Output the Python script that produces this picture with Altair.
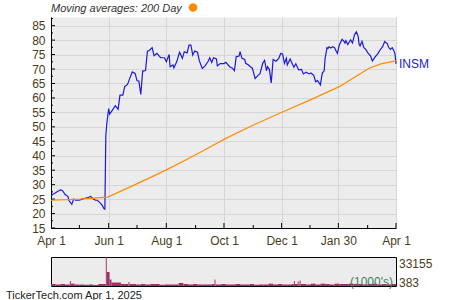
import altair as alt
import pandas as pd

FONT = "Liberation Sans"
LABEL_COLOR = "#4a3c20"

# ---- price (INSM) ----
price_dates = [
    "2024-04-01", "2024-04-03", "2024-04-05", "2024-04-08", "2024-04-11", "2024-04-13", "2024-04-16",
    "2024-04-19", "2024-04-20", "2024-04-23", "2024-04-25", "2024-04-27", "2024-05-01", "2024-05-04",
    "2024-05-06", "2024-05-09", "2024-05-13", "2024-05-15", "2024-05-18", "2024-05-20", "2024-05-23",
    "2024-05-25", "2024-05-27", "2024-05-28", "2024-05-29", "2024-05-30", "2024-06-01", "2024-06-02",
    "2024-06-05", "2024-06-08", "2024-06-11", "2024-06-13", "2024-06-16", "2024-06-18", "2024-06-21",
    "2024-06-23", "2024-06-26", "2024-06-29", "2024-07-01", "2024-07-03", "2024-07-05", "2024-07-07",
    "2024-07-10", "2024-07-12", "2024-07-14", "2024-07-17", "2024-07-19", "2024-07-22", "2024-07-26",
    "2024-07-30", "2024-08-01", "2024-08-04", "2024-08-05", "2024-08-08", "2024-08-09", "2024-08-12",
    "2024-08-15", "2024-08-18", "2024-08-20", "2024-08-23", "2024-08-25", "2024-08-27", "2024-08-29",
    "2024-08-31", "2024-09-03", "2024-09-05", "2024-09-08", "2024-09-11", "2024-09-14", "2024-09-16",
    "2024-09-18", "2024-09-20", "2024-09-23", "2024-09-24", "2024-09-27", "2024-10-01", "2024-10-03",
    "2024-10-07", "2024-10-10", "2024-10-12", "2024-10-14", "2024-10-17", "2024-10-18", "2024-10-20",
    "2024-10-23", "2024-10-24", "2024-10-27", "2024-10-29", "2024-10-31", "2024-11-03", "2024-11-06",
    "2024-11-08", "2024-11-11", "2024-11-13", "2024-11-15", "2024-11-16", "2024-11-18", "2024-11-20",
    "2024-11-22", "2024-11-25", "2024-11-28", "2024-11-30", "2024-12-02", "2024-12-04", "2024-12-06",
    "2024-12-07", "2024-12-10", "2024-12-12", "2024-12-14", "2024-12-16", "2024-12-19", "2024-12-22",
    "2024-12-24", "2024-12-27", "2024-12-30", "2025-01-01", "2025-01-04", "2025-01-06", "2025-01-08",
    "2025-01-11", "2025-01-13", "2025-01-15", "2025-01-16", "2025-01-18", "2025-01-19", "2025-01-20",
    "2025-01-22", "2025-01-24", "2025-01-26", "2025-01-28", "2025-01-29", "2025-01-31", "2025-02-03",
    "2025-02-05", "2025-02-06", "2025-02-07", "2025-02-09", "2025-02-11", "2025-02-12", "2025-02-14",
    "2025-02-16", "2025-02-18", "2025-02-20", "2025-02-21", "2025-02-22", "2025-02-24", "2025-02-26",
    "2025-02-28", "2025-03-02", "2025-03-05", "2025-03-07", "2025-03-10", "2025-03-13", "2025-03-15",
    "2025-03-18", "2025-03-20", "2025-03-23", "2025-03-24", "2025-03-26", "2025-03-28", "2025-03-30",
    "2025-03-31", "2025-04-01",
]
price_values = [
    25.9, 26.7, 27.0, 27.6, 28.2, 28.0, 26.6,
    25.9, 24.5, 23.2, 25.0, 24.6, 24.6, 25.0,
    25.2, 25.4, 25.9, 25.2, 24.6, 24.6, 23.7,
    22.9, 21.7, 21.5, 47.0, 51.0, 56.3, 54.4,
    55.8, 57.3, 56.1, 61.0, 61.0, 63.9, 64.7,
    66.5, 69.0, 68.5, 66.0, 65.8, 61.2, 69.3,
    69.5, 76.2, 76.4, 77.4, 74.6, 75.4, 73.9,
    73.9, 72.5, 75.0, 70.8, 71.4, 70.4, 72.5,
    75.8, 73.7, 76.0, 75.6, 78.3, 78.3, 74.8,
    76.2, 75.8, 72.8, 70.2, 71.1, 72.5, 73.9,
    72.3, 73.9, 73.5, 71.1, 71.9, 71.9, 72.3,
    70.8, 70.3, 69.4, 74.3, 74.5, 76.0, 73.7,
    73.3, 72.0, 71.4, 70.8, 70.3, 66.7, 67.8,
    68.3, 72.0, 73.0, 69.4, 70.8, 69.9, 65.2,
    73.3, 72.7, 73.7, 75.4, 75.2, 72.0, 73.7,
    71.4, 73.5, 72.0, 70.6, 71.8, 69.7, 69.9,
    68.3, 68.9, 68.3, 68.6, 67.8, 65.6, 66.0,
    64.5, 68.6, 69.4, 73.7, 77.4, 77.1, 77.7,
    77.3, 77.7, 77.4, 76.0, 75.4, 78.3, 80.3,
    79.6, 79.0, 79.8, 78.5, 79.6, 80.1, 79.0,
    81.8, 82.9, 81.3, 78.5, 78.0, 79.6, 77.4,
    76.8, 75.7, 74.6, 72.8, 74.2, 75.4, 76.5,
    77.8, 79.5, 78.7, 77.6, 76.8, 77.4, 76.2,
    75.1, 71.8,
]

# ---- 200-day moving average ----
ma_dates = ["2024-04-01", "2024-05-01", "2024-05-31", "2024-06-25", "2024-07-16", "2024-08-01",
            "2024-08-22", "2024-09-07", "2024-10-03", "2024-10-30", "2024-11-30", "2025-01-01",
            "2025-01-31", "2025-02-18", "2025-03-03", "2025-03-16", "2025-04-01"]
ma_values = [24.6, 25.0, 25.7, 29.4, 32.6, 35.1, 38.6, 41.4, 46.0, 50.3, 54.9, 59.4,
             63.9, 67.5, 70.2, 71.8, 72.8]

# ---- volume (1000's) ----
vol_dates = [
    "2024-04-01", "2024-04-06", "2024-04-11", "2024-04-16", "2024-04-21", "2024-04-22", "2024-04-26",
    "2024-05-01", "2024-05-06", "2024-05-11", "2024-05-16", "2024-05-21", "2024-05-26", "2024-05-29",
    "2024-05-30", "2024-06-02", "2024-06-04", "2024-06-14", "2024-06-22", "2024-06-23", "2024-06-30",
    "2024-07-05", "2024-07-10", "2024-07-15", "2024-07-20", "2024-07-25", "2024-07-30", "2024-08-04",
    "2024-08-09", "2024-08-14", "2024-08-19", "2024-08-24", "2024-08-29", "2024-09-03", "2024-09-08",
    "2024-09-13", "2024-09-18", "2024-09-21", "2024-09-22", "2024-09-28", "2024-10-03", "2024-10-08",
    "2024-10-13", "2024-10-18", "2024-10-23", "2024-10-28", "2024-11-02", "2024-11-07", "2024-11-12",
    "2024-11-17", "2024-11-22", "2024-11-27", "2024-12-02", "2024-12-07", "2024-12-12", "2024-12-14",
    "2024-12-15", "2024-12-18", "2024-12-19", "2024-12-20", "2024-12-21", "2024-12-27", "2025-01-01",
    "2025-01-06", "2025-01-11", "2025-01-16", "2025-01-21", "2025-01-26", "2025-01-31", "2025-02-05",
    "2025-02-10", "2025-02-15", "2025-02-20", "2025-02-25", "2025-03-02", "2025-03-07", "2025-03-12",
    "2025-03-17", "2025-03-22", "2025-03-27",
]
vol_values = [
    2650, 2100, 2650, 2100, 6030, 3000, 2100,
    2100, 1800, 2100, 1500, 2650, 2650, 33155,
    16200, 7700, 4300, 2650, 4900, 2650, 2100,
    2650, 2100, 2650, 2650, 1800, 2100, 2100,
    2100, 3800, 2650, 2100, 2650, 2100, 2100,
    2100, 2650, 7700, 2100, 2650, 2100, 2100,
    2650, 2100, 2100, 2650, 1800, 2100, 2100,
    3000, 2100, 2650, 2100, 2100, 2650, 6030,
    2650, 5500, 2650, 6500, 2650, 2100, 3000,
    2100, 3000, 2650, 2100, 3000, 2650, 2650,
    3000, 2650, 2650, 2100, 2650, 3000, 2100,
    2650, 2100, 2650,
]
VOL_MAX, VOL_MIN = 33155, 383

x_label_dates = ["2024-04-01", "2024-06-01", "2024-08-01", "2024-10-01", "2024-12-01", "2025-01-30", "2025-04-01"]
x_major_tick_dates = x_label_dates[1:]
x_minor_tick_dates = ["2024-05-01", "2024-07-01", "2024-09-01", "2024-11-01", "2024-12-31", "2025-03-02"]
y_labels = [15, 20, 25, 30, 35, 40, 45, 50, 55, 60, 65, 70, 75, 80, 85]
y_minor = [17.5, 22.5, 27.5, 32.5, 37.5, 42.5, 47.5, 52.5, 57.5, 62.5, 67.5, 72.5, 77.5, 82.5, 87.5]

W, H = 345, 211
VH = 29


def ts(d):
    return int(pd.Timestamp(d, tz="UTC").timestamp() * 1000)


x_scale = alt.Scale(type="utc", domain=[ts("2024-04-01"), ts("2025-04-01")])
y_scale = alt.Scale(domain=[15, 88], nice=False, zero=False)

x_axis = alt.Axis(values=[ts(d) for d in x_label_dates], format="%b %-d",
                  labelFont=FONT, labelFontSize=12, labelColor=LABEL_COLOR,
                  labelFlush=False, labelOverlap=False, labelPadding=7,
                  ticks=False, domainColor="black", domainWidth=1,
                  grid=True, gridColor="#d6d6d6", gridWidth=1)
y_axis = alt.Axis(values=y_labels, labelFont=FONT, labelFontSize=12,
                  labelColor=LABEL_COLOR, labelPadding=6, labelFlush=False,
                  ticks=False, domainColor="black", domainWidth=1,
                  grid=True, gridColor="#d6d6d6", gridWidth=1)

X = alt.X("date:T", scale=x_scale, title=None, axis=x_axis)
Y = alt.Y("v:Q", scale=y_scale, title=None, axis=y_axis)

price_df = pd.DataFrame({"date": price_dates, "v": price_values})
ma_df = pd.DataFrame({"date": ma_dates, "v": ma_values})

price_line = alt.Chart(price_df).mark_line(color="#1a1ae0", strokeWidth=1.2).encode(x=X, y=Y)
ma_line = alt.Chart(ma_df).mark_line(color="#ff8c00", strokeWidth=1.2).encode(x=X, y=Y)

xt_major = alt.Chart(pd.DataFrame({"date": x_major_tick_dates})).mark_rule(color="black").encode(
    x=X, y=alt.value(H), y2=alt.value(H - 5))
xt_minor = alt.Chart(pd.DataFrame({"date": x_minor_tick_dates})).mark_rule(color="black").encode(
    x=X, y=alt.value(H), y2=alt.value(H - 3))
yt_major = alt.Chart(pd.DataFrame({"v": y_labels})).mark_rule(color="black").encode(
    y=Y, x=alt.value(0), x2=alt.value(4))
yt_minor = alt.Chart(pd.DataFrame({"v": y_minor})).mark_rule(color="black").encode(
    y=Y, x=alt.value(0), x2=alt.value(2))

insm = alt.Chart(pd.DataFrame({"date": [price_dates[-1]], "v": [price_values[-1]], "t": ["INSM"]})).mark_text(
    align="left", baseline="middle", dx=3, font=FONT, fontSize=12, color="#2020cc").encode(
    x=X, y=Y, text="t:N")

title_txt = alt.Chart(pd.DataFrame({"t": ["Moving averages: 200 Day"]})).mark_text(
    align="left", baseline="middle", font=FONT, fontSize=11, fontStyle="italic", color="#333333").encode(
    x=alt.value(0), y=alt.value(-8), text="t:N")
title_dot = alt.Chart(pd.DataFrame({"t": ["200 Day"]})).mark_point(
    filled=True, shape="circle", size=75, color="#ff8c00", opacity=1).encode(
    x=alt.value(142), y=alt.value(-9.5))

price_chart = alt.layer(
    price_line, xt_major, xt_minor, yt_major, yt_minor, ma_line, insm, title_txt, title_dot
).properties(width=W, height=H, view=alt.ViewBackground(fill="#ececec", stroke="transparent"))

vol_df = pd.DataFrame({"start": vol_dates, "end": vol_dates[1:] + ["2025-04-01"], "v": vol_values})
vol_bars = alt.Chart(vol_df).mark_rect(color="#993366").encode(
    x=alt.X("start:T", scale=x_scale, axis=None),
    x2="end:T",
    y=alt.Y("v:Q", scale=alt.Scale(domain=[VOL_MIN, VOL_MAX], nice=False, zero=False), axis=None),
    y2=alt.value(VH),
)
vol_hi = alt.Chart(pd.DataFrame({"t": [str(VOL_MAX)]})).mark_text(
    align="left", baseline="middle", font=FONT, fontSize=12, color=LABEL_COLOR).encode(
    x=alt.value(W + 3), y=alt.value(6.5), text="t:N")
vol_lo = alt.Chart(pd.DataFrame({"t": [str(VOL_MIN)]})).mark_text(
    align="left", baseline="middle", font=FONT, fontSize=12, color=LABEL_COLOR).encode(
    x=alt.value(W + 3), y=alt.value(25.5), text="t:N")
vol_unit = alt.Chart(pd.DataFrame({"t": ["(1000's)"]})).mark_text(
    align="right", baseline="middle", font=FONT, fontSize=12, color="#4a7a66").encode(
    x=alt.value(W - 3), y=alt.value(24.5), text="t:N")
footer = alt.Chart(pd.DataFrame({"t": ["TickerTech.com  Apr 1, 2025"]})).mark_text(
    align="left", baseline="middle", font=FONT, fontSize=11, color="#222222").encode(
    x=alt.value(-45), y=alt.value(38.5), text="t:N")

vol_chart = alt.layer(vol_bars, vol_unit, vol_hi, vol_lo, footer).properties(
    width=W, height=VH, view=alt.ViewBackground(fill="#ececec", stroke="black", strokeWidth=1))

chart = alt.vconcat(price_chart, vol_chart, spacing=29, bounds="flush").properties(
    padding={"left": 5, "top": 2, "right": 5, "bottom": 5},
    background="white",
)

chart.save("out.html", embed_options={"renderer": "svg", "actions": False})
